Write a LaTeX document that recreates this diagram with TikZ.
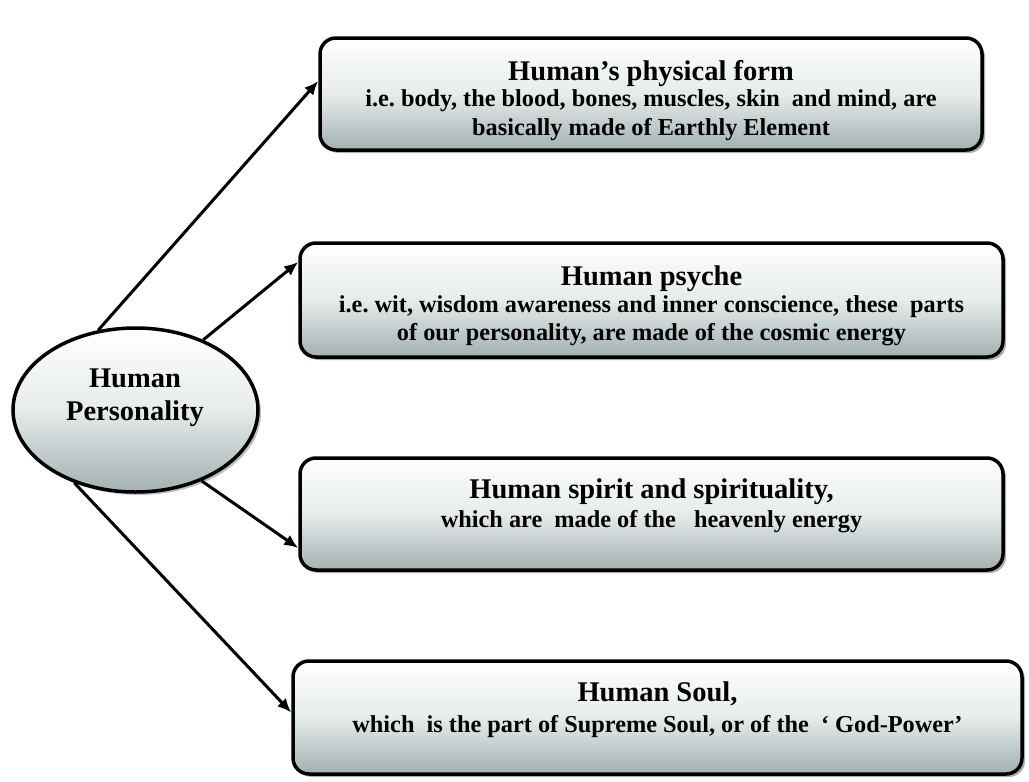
\documentclass[tikz,border=0pt]{standalone}
\usepackage{fontspec}
\setmainfont{Liberation Serif}
\usetikzlibrary{arrows.meta,shadows,shapes.geometric}
\definecolor{shadeb}{RGB}{162,177,177}
\definecolor{shadem}{RGB}{230,235,235}
\begin{document}
\frenchspacing
\begin{tikzpicture}[x=1pt,y=-1pt,
  boxshape/.style={draw=black, line width=3.5pt, rounded corners=16pt,
    top color=white, bottom color=shadeb, middle color=shadem,
    drop shadow={shadow xshift=3pt, shadow yshift=-3pt, opacity=0.45, fill=black!70},
    inner sep=0pt},
  ellshape/.style={ellipse, draw=black, line width=3.5pt,
    top color=white, bottom color=shadeb, middle color=shadem,
    drop shadow={shadow xshift=3pt, shadow yshift=-3pt, opacity=0.35, fill=black!70},
    inner sep=0pt, minimum width=245pt, minimum height=164pt},
  titletxt/.style={anchor=base, inner sep=0pt, font=\bfseries\frenchspacing\fontsize{28.5}{30}\selectfont},
  bodytxt/.style={anchor=base, inner sep=0pt, font=\bfseries\frenchspacing\fontsize{24.3}{26}\selectfont},
  conn/.style={line width=3pt, -{Latex[length=14pt,width=12pt]}}
]
\useasboundingbox (0,0) rectangle (1029,782);
\fill[white] (0,0) rectangle (1029,782);

% ellipse
\node[ellshape] (ell) at (135.5,410) {};
\node[titletxt] (e1) at (135,387) {Human};
\node[titletxt] (e2) at (135,420) {Personality};

% boxes
\node[boxshape, minimum width=662pt, minimum height=112pt] (b1) at (651,94) {};
\node[boxshape, minimum width=703pt, minimum height=114pt] (b2) at (651.5,300) {};
\node[boxshape, minimum width=703pt, minimum height=112pt] (b3) at (651.5,514) {};
\node[boxshape, minimum width=729pt, minimum height=113pt] (b4) at (657.5,717.5) {};

% box 1 text
\node[titletxt] (t1) at (651,80) {Human’s physical form};
\node[bodytxt] (t1a) at (651,106) {i.e. body, the blood, bones, muscles, skin\ \ and mind, are};
\node[bodytxt] (t1b) at (651,135) {basically made of Earthly Element};

% box 2 text
\node[titletxt] (t2) at (651.5,285) {Human psyche};
\node[bodytxt] (t2a) at (651.5,312) {i.e. wit, wisdom awareness and inner conscience, these\ \ parts};
\node[bodytxt] (t2b) at (651.5,340) {of our personality, are made of the cosmic energy};

% box 3 text
\node[titletxt] (t3) at (651.5,498) {Human spirit and spirituality,};
\node[bodytxt] (t3a) at (651.5,527) {which are\ \ made of the\ \ \ heavenly energy};

% box 4 text
\node[titletxt] (t4) at (657.5,701) {Human Soul,};
\node[bodytxt] (t4a) at (657.5,732) {which\ \ is the part of Supreme Soul, or of the\ \ ‘ God-Power’};

% connectors
\draw[conn] (ell.115.7) -- ([yshift=13pt]b1.west);
\draw[conn] (ell.46.7) -- ([yshift=38pt]b2.west);
\draw[conn] (ell.-47.5) -- ([yshift=-34pt]b3.west);
\draw[conn] (ell.230.6) -- ([yshift=5pt]b4.west);
\end{tikzpicture}
\end{document}
